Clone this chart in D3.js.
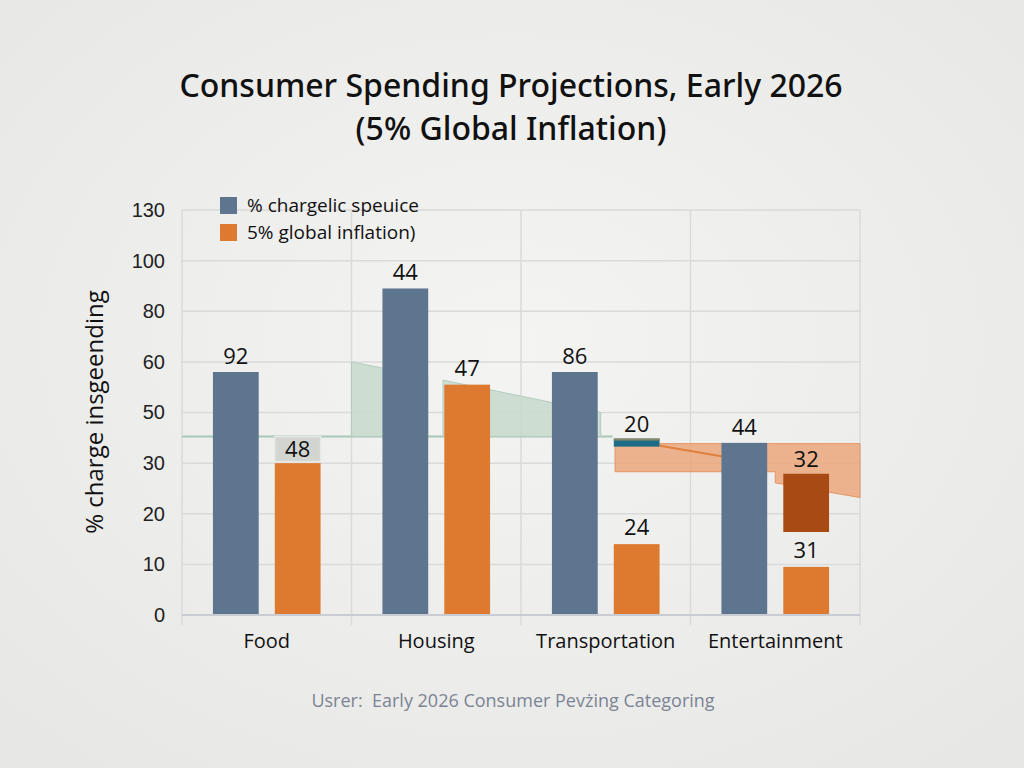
<!doctype html>
<meta charset="utf-8">
<style>
  body { margin: 0; background: #eeeeed; }
  svg { display: block; font-family: "Open Sans", "Noto Sans", sans-serif; }
  .tick-label { font-size: 20px; fill: #222; }
  .cat-label { font-size: 20px; fill: #111; }
  .value { font-size: 22px; fill: #111; text-anchor: middle; }
</style>
<body>
<div id="chart"></div>
<script src="https://d3js.org/d3.v7.min.js"></script>
<script>
  var categories = ["Food", "Housing", "Transportation", "Entertainment"];
  var seriesNames = ["% chargelic speuice", "5% global inflation)"];
  var blueValues = [58, 89, 58, 38];
  var orangeValues = [30, 55.5, 14, 9.5];
  var blueLabels = ["92", "44", "86", "44"];
  var orangeLabels = ["48", "47", "24", "31"];
  var yTicks = [0, 10, 20, 30, 50, 60, 80, 100, 130];

  // odd overlay shapes, x in category units (0..4)
  var greenBase = 40.5;
  var greenLineEnd = 2.54;
  var greenParts = [
    [{x: 1.0, v: 60}, {x: 1.45, v: 57}],
    [{x: 1.54, v: 56.4}, {x: 2.47, v: 50}]
  ];
  var orangeBand = [
    {x: 2.555, top: 37.7, bot: 28.3},
    {x: 3.5, top: 37.7, bot: 28.3},
    {x: 3.5, top: 37.7, bot: 26.1},
    {x: 4.0, top: 37.7, bot: 23.2}
  ];
  var orangeLine = [{x: 2.82, v: 36.9}, {x: 3.19, v: 32.6}];
  var tealMark = {cat: "Transportation", from: 36.5, to: 39.7, label: "20"};
  var darkBar = {cat: "Entertainment", from: 16.4, to: 27.9, label: "32"};
  var labelBox = {cat: "Food", from: 30.6, to: 40.5};

  var W = 1024, H = 768;
  var margin = {top: 210, right: 164, bottom: 153, left: 182};
  var width = W - margin.left - margin.right,
      height = H - margin.top - margin.bottom;

  var svg = d3.select("#chart").append("svg")
    .attr("width", W).attr("height", H);

  var grad = svg.append("defs").append("radialGradient")
    .attr("id", "bg").attr("cx", "50%").attr("cy", "45%").attr("r", "70%");
  grad.append("stop").attr("offset", "0%").attr("stop-color", "#f4f4f3");
  grad.append("stop").attr("offset", "100%").attr("stop-color", "#e7e7e6");
  svg.append("rect").attr("width", W).attr("height", H).attr("fill", "url(#bg)");

  // title
  var title = svg.append("text").attr("text-anchor", "middle")
    .attr("font-family", "'Noto Sans', 'Open Sans', sans-serif")
    .attr("font-size", 32).attr("fill", "#111").attr("font-weight", 500);
  title.append("tspan").attr("x", 511).attr("y", 97).text("Consumer Spending Projections, Early 2026");
  title.append("tspan").attr("x", 511).attr("y", 140).text("(5% Global Inflation)");

  var g = svg.append("g")
    .attr("transform", "translate(" + margin.left + "," + margin.top + ")");

  // uneven tick labels sit on evenly spaced gridlines
  var y = d3.scaleLinear()
    .domain(yTicks)
    .range(yTicks.map((d, i) => height - i * height / (yTicks.length - 1)));

  var x0 = d3.scaleBand().domain(categories).range([0, width]);
  var x1 = d3.scaleBand().domain(["blue", "orange"])
    .range([0, x0.bandwidth()]).paddingInner(0.26).paddingOuter(0.5);
  var xc = d3.scaleLinear().domain([0, categories.length]).range([0, width]);

  // grid
  g.selectAll(".hgrid").data(yTicks.slice(1)).enter().append("line")
    .attr("x1", 0).attr("x2", width)
    .attr("y1", d => y(d)).attr("y2", d => y(d))
    .attr("stroke", "#dadada").attr("stroke-width", 1.5);
  g.selectAll(".vgrid").data(d3.range(categories.length + 1)).enter().append("line")
    .attr("x1", d => xc(d)).attr("x2", d => xc(d))
    .attr("y1", 0).attr("y2", height + 10)
    .attr("stroke", "#dadada").attr("stroke-width", 1.5);

  // y axis
  var yAxis = d3.axisLeft(y).tickValues(yTicks).tickSize(0).tickPadding(17);
  var ya = g.append("g").call(yAxis);
  ya.select(".domain").remove();
  ya.selectAll("text").attr("class", "tick-label").attr("font-family", null).attr("font-size", null);

  // green shaded area
  g.append("line")
    .attr("x1", xc(0)).attr("x2", xc(greenLineEnd))
    .attr("y1", y(greenBase)).attr("y2", y(greenBase))
    .attr("stroke", "#a9c8b6").attr("stroke-width", 2);
  var greenArea = d3.area().x(d => xc(d.x)).y0(y(greenBase)).y1(d => y(d.v));
  g.selectAll(".green").data(greenParts).enter().append("path")
    .attr("d", greenArea)
    .attr("fill", "#c9dacd").attr("fill-opacity", 0.9)
    .attr("stroke", "#b3cdbd").attr("stroke-width", 1);

  // orange shaded area
  var orangeArea = d3.area().x(d => xc(d.x)).y0(d => y(d.bot)).y1(d => y(d.top));
  g.append("path").datum(orangeBand)
    .attr("d", orangeArea)
    .attr("fill", "#eba275").attr("fill-opacity", 0.8)
    .attr("stroke", "#e69463").attr("stroke-width", 1);
  g.append("path").datum(orangeLine)
    .attr("d", d3.line().x(d => xc(d.x)).y(d => y(d.v)))
    .attr("stroke", "#e0803f").attr("stroke-width", 2).attr("fill", "none");

  // bars
  g.selectAll(".blue").data(blueValues).enter().append("rect")
    .attr("x", (d, i) => x0(categories[i]) + x1("blue"))
    .attr("y", d => y(d))
    .attr("width", x1.bandwidth())
    .attr("height", d => height - y(d))
    .attr("fill", "#5e7590");
  g.selectAll(".orange").data(orangeValues).enter().append("rect")
    .attr("x", (d, i) => x0(categories[i]) + x1("orange"))
    .attr("y", d => y(d))
    .attr("width", x1.bandwidth())
    .attr("height", d => height - y(d))
    .attr("fill", "#de7a30");

  // label box behind food "48"
  g.append("rect")
    .attr("x", x0(labelBox.cat) + x1("orange"))
    .attr("y", y(labelBox.to))
    .attr("width", x1.bandwidth())
    .attr("height", y(labelBox.from) - y(labelBox.to))
    .attr("fill", "#d2d5d0").attr("stroke", "#e6e9e4").attr("stroke-width", 1.5);

  // teal marker
  g.append("rect")
    .attr("x", x0(tealMark.cat) + x1("orange"))
    .attr("y", y(tealMark.to))
    .attr("width", x1.bandwidth())
    .attr("height", y(tealMark.from) - y(tealMark.to))
    .attr("fill", "#1e6d88");
  g.append("rect")
    .attr("x", x0(tealMark.cat) + x1("orange"))
    .attr("y", y(tealMark.to))
    .attr("width", x1.bandwidth())
    .attr("height", 2)
    .attr("fill", "#8a8766");

  // dark red bar
  g.append("rect")
    .attr("x", x0(darkBar.cat) + x1("orange"))
    .attr("y", y(darkBar.to))
    .attr("width", x1.bandwidth())
    .attr("height", y(darkBar.from) - y(darkBar.to))
    .attr("fill", "#a84a13");

  // x axis
  g.append("line")
    .attr("x1", 0).attr("x2", width).attr("y1", height).attr("y2", height)
    .attr("stroke", "#c9cdd3").attr("stroke-width", 2);
  g.selectAll(".cat").data(categories).enter().append("text")
    .attr("class", "cat-label")
    .attr("x", d => x0(d) + x0.bandwidth() / 2)
    .attr("y", height + 33)
    .attr("text-anchor", "middle")
    .text(d => d);

  // value labels
  g.selectAll(".bl").data(blueValues).enter().append("text")
    .attr("class", "value")
    .attr("x", (d, i) => x0(categories[i]) + x1("blue") + x1.bandwidth() / 2)
    .attr("y", d => y(d) - 8)
    .text((d, i) => blueLabels[i]);
  g.selectAll(".ol").data(orangeValues).enter().append("text")
    .attr("class", "value")
    .attr("x", (d, i) => x0(categories[i]) + x1("orange") + x1.bandwidth() / 2)
    .attr("y", (d, i) => categories[i] === labelBox.cat
      ? (y(labelBox.to) + y(labelBox.from)) / 2 + 8
      : y(d) - 9)
    .text((d, i) => orangeLabels[i]);
  [tealMark, darkBar].forEach(m => {
    g.append("text").attr("class", "value")
      .attr("x", x0(m.cat) + x1("orange") + x1.bandwidth() / 2)
      .attr("y", y(m.to) - 7)
      .text(m.label);
  });

  // legend
  var legend = svg.append("g").attr("transform", "translate(220,197)");
  var legColors = ["#5e7590", "#de7a30"];
  seriesNames.forEach((s, i) => {
    legend.append("rect").attr("x", 0).attr("y", i * 27)
      .attr("width", 17).attr("height", 17).attr("fill", legColors[i]);
    legend.append("text").attr("x", 27).attr("y", i * 27 + 15)
      .attr("font-size", 19).attr("fill", "#111").text(s);
  });

  // y axis title
  svg.append("text")
    .attr("transform", "translate(103,412) rotate(-90)")
    .attr("text-anchor", "middle")
    .attr("font-size", 24).attr("fill", "#111")
    .text("% charge insgeending");

  // footer
  svg.append("text")
    .attr("x", 513).attr("y", 707)
    .attr("text-anchor", "middle")
    .attr("font-size", 18).attr("fill", "#7b8493")
    .style("white-space", "pre")
    .text("Usrer:  Early 2026 Consumer Pevżing Categoring");
</script>
</body>
